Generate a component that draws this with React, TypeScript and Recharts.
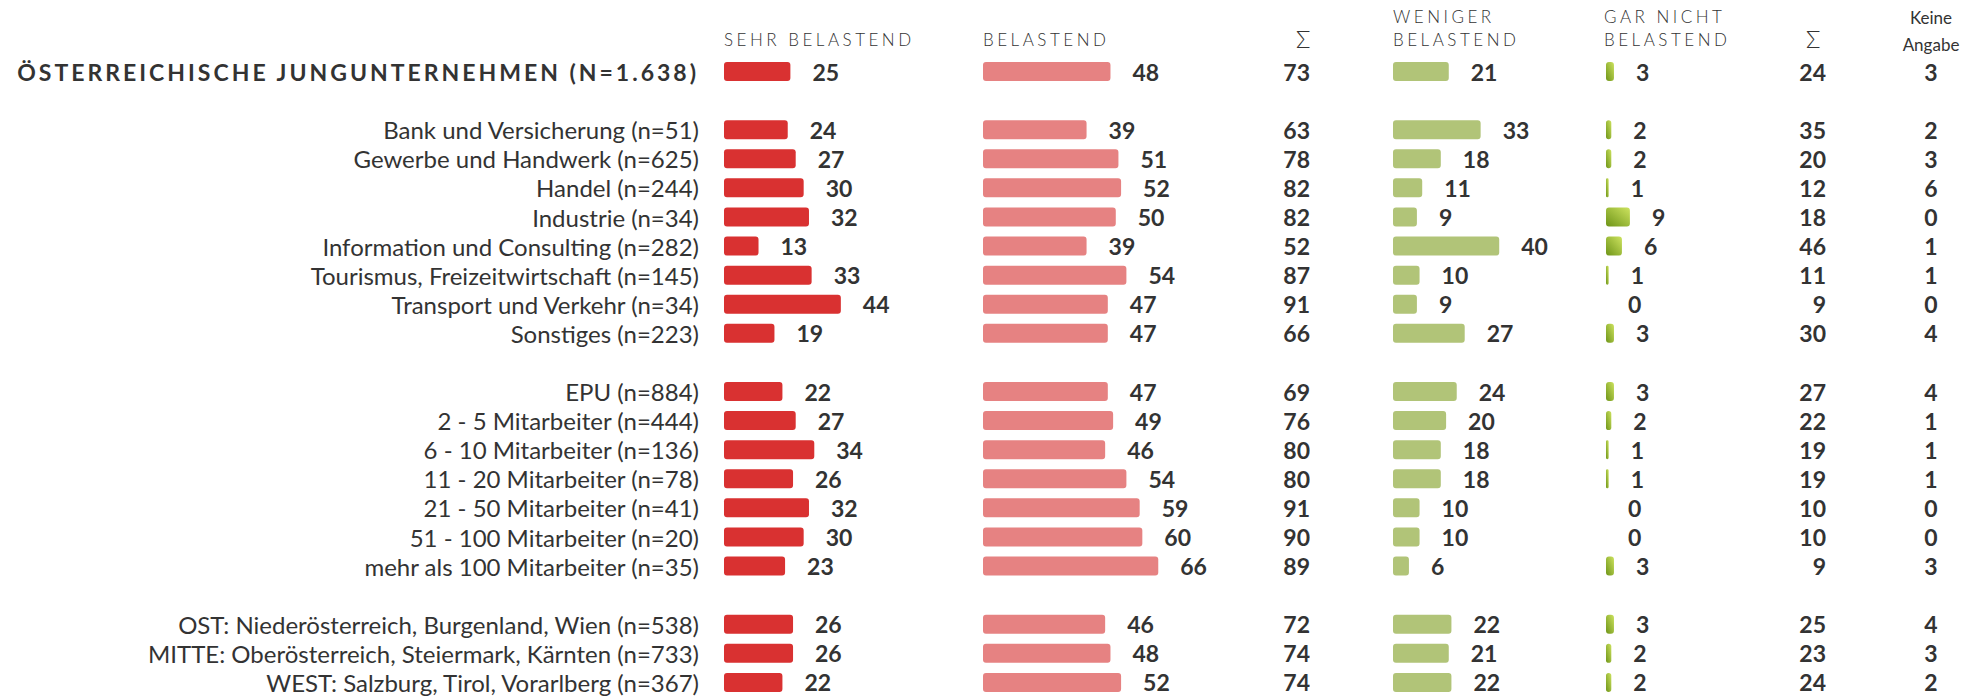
import { BarChart, Bar, XAxis, YAxis, LabelList } from "recharts";

const totalLabel = "ÖSTERREICHISCHE JUNGUNTERNEHMEN (N=1.638)";

const categories = [
  totalLabel,
  "Bank und Versicherung (n=51)",
  "Gewerbe und Handwerk (n=625)",
  "Handel (n=244)",
  "Industrie (n=34)",
  "Information und Consulting (n=282)",
  "Tourismus, Freizeitwirtschaft (n=145)",
  "Transport und Verkehr (n=34)",
  "Sonstiges (n=223)",
  "EPU (n=884)",
  "2 - 5 Mitarbeiter (n=444)",
  "6 - 10 Mitarbeiter (n=136)",
  "11 - 20 Mitarbeiter (n=78)",
  "21 - 50 Mitarbeiter (n=41)",
  "51 - 100 Mitarbeiter (n=20)",
  "mehr als 100 Mitarbeiter (n=35)",
  "OST: Niederösterreich, Burgenland, Wien (n=538)",
  "MITTE: Oberösterreich, Steiermark, Kärnten (n=733)",
  "WEST: Salzburg, Tirol, Vorarlberg (n=367)",
];

// blank spacer row after these category indices
const blankAfter = [0, 8, 15];

const sehrBelastend = [25, 24, 27, 30, 32, 13, 33, 44, 19, 22, 27, 34, 26, 32, 30, 23, 26, 26, 22];
const belastend = [48, 39, 51, 52, 50, 39, 54, 47, 47, 47, 49, 46, 54, 59, 60, 66, 46, 48, 52];
const summeBelastend = [73, 63, 78, 82, 82, 52, 87, 91, 66, 69, 76, 80, 80, 91, 90, 89, 72, 74, 74];
const wenigerBelastend = [21, 33, 18, 11, 9, 40, 10, 9, 27, 24, 20, 18, 18, 10, 10, 6, 22, 21, 22];
const garNichtBelastend = [3, 2, 2, 1, 9, 6, 1, 0, 3, 3, 2, 1, 1, 0, 0, 3, 3, 2, 2];
const summeNicht = [24, 35, 20, 12, 18, 46, 11, 9, 30, 27, 22, 19, 19, 10, 10, 9, 25, 23, 24];
const keineAngabe = [3, 2, 3, 6, 0, 1, 1, 0, 4, 4, 1, 1, 1, 0, 0, 3, 4, 3, 2];

type Row = {
  key: string;
  name: string;
  isTotal?: boolean;
  sehr?: number;
  bel?: number;
  sum1?: number;
  wen?: number;
  gar?: number;
  sum2?: number;
  keine?: number;
};

const rows: Row[] = [];
categories.forEach((name, i) => {
  rows.push({
    key: `r${i}`,
    name,
    isTotal: i === 0,
    sehr: sehrBelastend[i],
    bel: belastend[i],
    sum1: summeBelastend[i],
    wen: wenigerBelastend[i],
    gar: garNichtBelastend[i],
    sum2: summeNicht[i],
    keine: keineAngabe[i],
  });
  if (blankAfter.includes(i)) rows.push({ key: `b${i}`, name: "" });
});

const FONT = "Lato, 'Open Sans', sans-serif";
const TEXT = "#333333";
const CHART_H = 700;
const MARGIN_TOP = 57;
const MARGIN_BOTTOM = 3;
const PLOT_W = 239; // 90 units
const BAR_SIZE = 19;
const NUM_SIZE = 23;

const valueLabel = (props: any) => {
  const { x, y, width, height, value } = props;
  if (value === null || value === undefined) return null;
  return (
    <text
      x={x + width + 22}
      y={y + height / 2}
      dominantBaseline="central"
      textAnchor="start"
      fontFamily={FONT}
      fontWeight={700}
      fontSize={NUM_SIZE}
      fill={TEXT}
    >
      {value}
    </text>
  );
};

const textOnly = (dx: number, anchor: string) => (props: any) => {
  const { x, y, height, value } = props;
  if (value === null || value === undefined) return null;
  return (
    <text
      x={x + dx}
      y={y + height / 2}
      dominantBaseline="central"
      textAnchor={anchor}
      fontFamily={FONT}
      fontWeight={700}
      fontSize={NUM_SIZE}
      fill={TEXT}
    >
      {value}
    </text>
  );
};

const CategoryTick = (props: any) => {
  const { x, y, index } = props;
  const row = rows[index];
  if (!row || !row.name) return null;
  if (row.isTotal) {
    return (
      <text
        x={x}
        y={y}
        dominantBaseline="central"
        textAnchor="end"
        fontFamily={FONT}
        fontWeight={700}
        fontSize={23}
        letterSpacing={3}
        fill={TEXT}
      >
        {row.name}
      </text>
    );
  }
  return (
    <text
      x={x}
      y={y}
      dominantBaseline="central"
      textAnchor="end"
      fontFamily={FONT}
      fontSize={24}
      fill={TEXT}
    >
      {row.name}
    </text>
  );
};

function BarColumn({
  left,
  dataKey,
  fill,
  withLabels,
  defs,
}: {
  left: number;
  dataKey: string;
  fill: string;
  withLabels?: boolean;
  defs?: any;
}) {
  const axisW = withLabels ? 724 : 0;
  return (
    <div style={{ position: "absolute", left: withLabels ? 0 : left, top: 0 }}>
      <BarChart
        width={axisW + PLOT_W + 70}
        height={CHART_H}
        data={rows}
        layout="vertical"
        margin={{ top: MARGIN_TOP, bottom: MARGIN_BOTTOM, left: 0, right: 70 }}
      >
        {defs}
        <XAxis type="number" domain={[0, 90]} hide />
        <YAxis
          type="category"
          dataKey="key"
          hide={!withLabels}
          width={axisW}
          axisLine={false}
          tickLine={false}
          tickSize={0}
          tickMargin={25}
          interval={0}
          tick={<CategoryTick />}
        />
        <Bar
          dataKey={dataKey}
          fill={fill}
          barSize={BAR_SIZE}
          radius={3}
          minPointSize={0.01}
          isAnimationActive={false}
        >
          <LabelList dataKey={dataKey} content={valueLabel} />
        </Bar>
      </BarChart>
    </div>
  );
}

function TextColumn({ left, width, dataKey, anchor }: { left: number; width: number; dataKey: string; anchor: string }) {
  const dx = anchor === "end" ? width : anchor === "middle" ? width / 2 : 0;
  return (
    <div style={{ position: "absolute", left, top: 0 }}>
      <BarChart
        width={width}
        height={CHART_H}
        data={rows}
        layout="vertical"
        margin={{ top: MARGIN_TOP, bottom: MARGIN_BOTTOM, left: 0, right: 0 }}
      >
        <XAxis type="number" domain={[0, 1000]} hide />
        <YAxis type="category" dataKey="key" hide />
        <Bar
          dataKey={(r: Row) => ((r as any)[dataKey] === undefined ? null : 1)}
          fill="none"
          barSize={BAR_SIZE}
          isAnimationActive={false}
        >
          <LabelList dataKey={dataKey} content={textOnly(dx, anchor)} />
        </Bar>
      </BarChart>
    </div>
  );
}

const headerStyle: any = {
  position: "absolute",
  fontFamily: FONT,
  fontWeight: 300,
  fontSize: 17,
  letterSpacing: 3.5,
  color: TEXT,
  lineHeight: "23px",
  whiteSpace: "nowrap",
};

const sigmaStyle: any = {
  ...headerStyle,
  letterSpacing: 0,
  fontSize: 24,
  lineHeight: "28px",
};

export default function App() {
  return (
    <div
      style={{
        position: "relative",
        width: 1988,
        height: 696,
        overflow: "hidden",
        background: "#ffffff",
        fontFamily: FONT,
      }}
    >
      <style>{`body{margin:0}`}</style>
      <div style={{ ...headerStyle, left: 724, top: 28 }}>SEHR BELASTEND</div>
      <div style={{ ...headerStyle, left: 983, top: 28 }}>BELASTEND</div>
      <div style={{ ...sigmaStyle, left: 1296, top: 25 }}>Σ</div>
      <div style={{ ...headerStyle, left: 1393, top: 5 }}>
        WENIGER
        <br />
        BELASTEND
      </div>
      <div style={{ ...headerStyle, left: 1604, top: 5 }}>
        GAR NICHT
        <br />
        BELASTEND
      </div>
      <div style={{ ...sigmaStyle, left: 1806, top: 25 }}>Σ</div>
      <div
        style={{
          ...headerStyle,
          left: 1891,
          width: 80,
          top: 4,
          letterSpacing: 0,
          fontWeight: 400,
          fontSize: 17,
          lineHeight: "27px",
          textAlign: "center",
        }}
      >
        Keine
        <br />
        Angabe
      </div>

      <BarColumn left={0} dataKey="sehr" fill="#d93131" withLabels />
      <BarColumn left={983} dataKey="bel" fill="#e68282" />
      <TextColumn left={1250} width={60} dataKey="sum1" anchor="end" />
      <BarColumn left={1393} dataKey="wen" fill="#b1c478" />
      <BarColumn
        left={1606}
        dataKey="gar"
        fill="url(#garGradient)"
        defs={
          <defs>
            <linearGradient id="garGradient" x1="0" y1="1" x2="1" y2="0">
              <stop offset="0%" stopColor="#6e9418" />
              <stop offset="100%" stopColor="#cde35f" />
            </linearGradient>
          </defs>
        }
      />
      <TextColumn left={1766} width={60} dataKey="sum2" anchor="end" />
      <TextColumn left={1891} width={80} dataKey="keine" anchor="middle" />
    </div>
  );
}
